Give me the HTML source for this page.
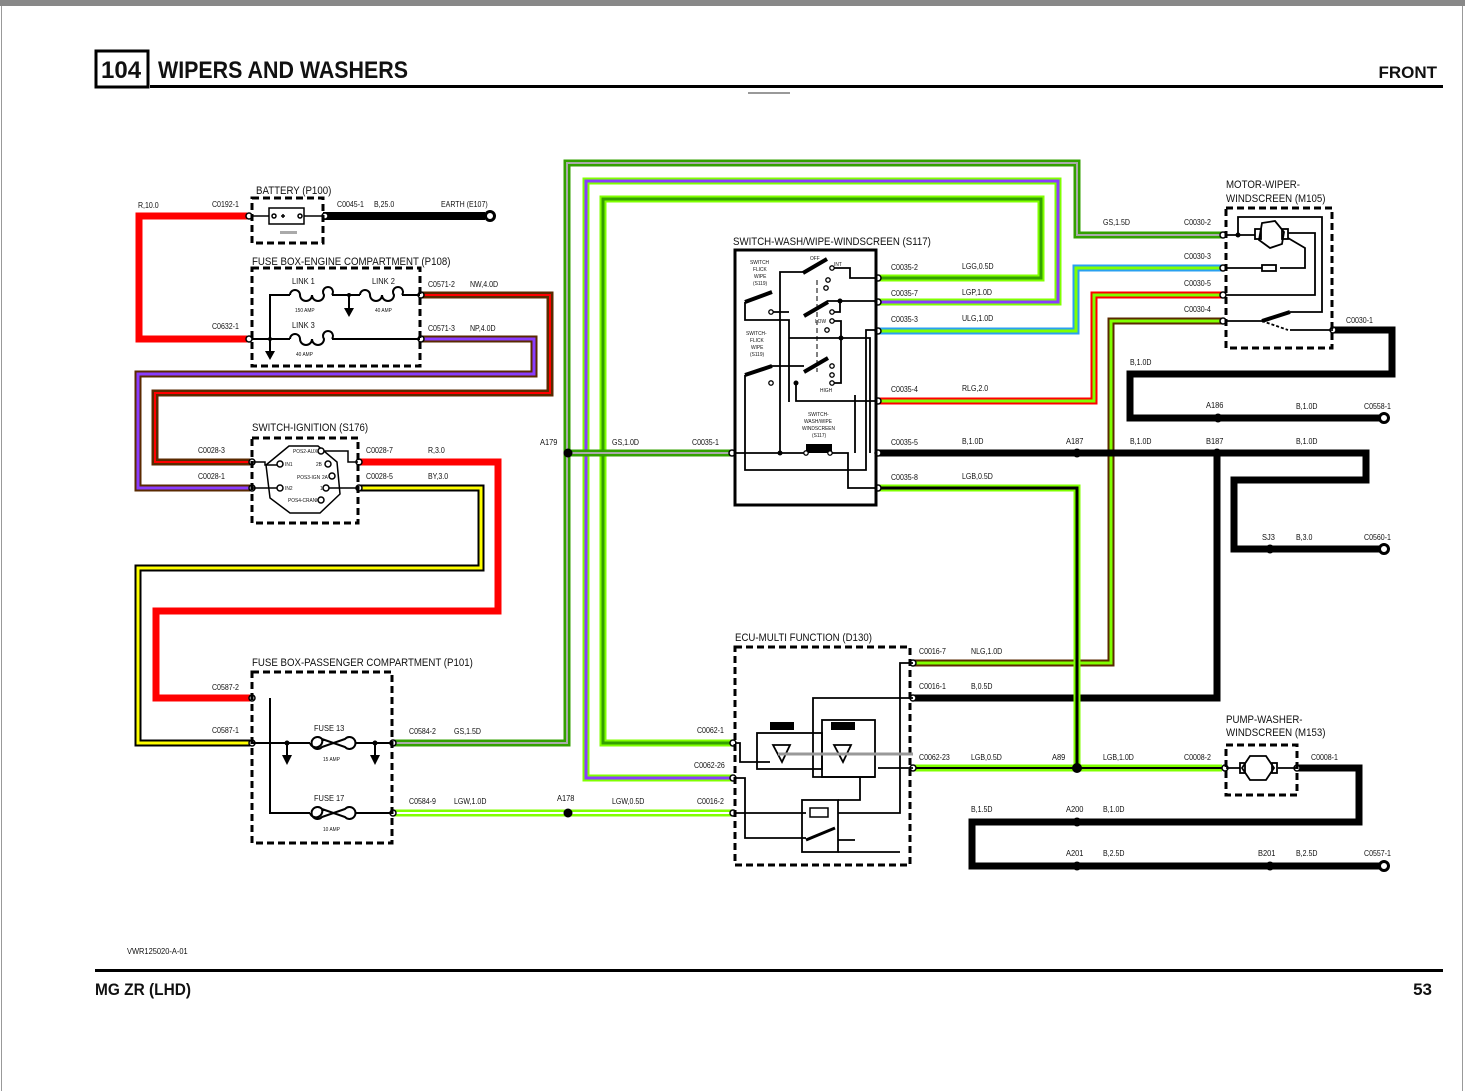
<!DOCTYPE html>
<html><head><meta charset="utf-8"><style>
html,body{margin:0;padding:0;background:#fff;}
svg{display:block;}
text{font-family:"Liberation Sans",sans-serif;fill:#111;}
.s{font-size:8.5px;}
.t{font-size:11px;}
.xs{font-size:5.5px;}
.s text,.t text,.xs text{transform-box:fill-box;transform-origin:0 0;transform:scaleX(.88);}
.w{fill:none;stroke-linejoin:miter;stroke-linecap:butt;}
</style></head><body>
<svg width="1465" height="1091" viewBox="0 0 1465 1091" xmlns="http://www.w3.org/2000/svg">
<rect x="0" y="0" width="1465" height="6" fill="#888"/>
<line x1="1.5" y1="6" x2="1.5" y2="1091" stroke="#999" stroke-width="1"/>
<line x1="1462.5" y1="6" x2="1462.5" y2="1091" stroke="#999" stroke-width="1"/>
<!-- header -->
<rect x="96" y="51" width="52" height="36" fill="none" stroke="#000" stroke-width="3"/>
<text x="101" y="78" style="font-size:24px;font-weight:bold">104</text>
<text x="158" y="78" style="font-size:24px;font-weight:bold" textLength="250" lengthAdjust="spacingAndGlyphs">WIPERS AND WASHERS</text>
<text x="1437" y="78" text-anchor="end" style="font-size:17px;font-weight:bold">FRONT</text>
<rect x="150" y="85" width="1293" height="3" fill="#000"/>
<rect x="748" y="92" width="42" height="2" fill="#999"/>
<rect x="95" y="969" width="1348" height="3" fill="#000"/>
<text x="95" y="995" style="font-size:17px;font-weight:bold" textLength="96" lengthAdjust="spacingAndGlyphs">MG ZR (LHD)</text>
<text x="1432" y="995" text-anchor="end" style="font-size:17px;font-weight:bold">53</text>
<g class="s"><text x="127" y="954">VWR125020-A-01</text></g>

<!-- WIRES -->
<g class="w">
<path d="M247 216 H139 V339 H247" stroke="#f00" stroke-width="7"/>
<path d="M323 216 H485" stroke="#000" stroke-width="8"/>
<path d="M420 295 H550 V393 H155 V462 H250" stroke="#5a2a00" stroke-width="7"/>
<path d="M420 295 H550 V393 H155 V462 H250" stroke="#f00" stroke-width="2"/>
<path d="M420 339 H534 V374 H138 V488 H250" stroke="#5a2a00" stroke-width="7"/>
<path d="M420 339 H534 V374 H138 V488 H250" stroke="#8a3cff" stroke-width="3"/>
<path d="M358 462 H498 V611 H156 V698 H250" stroke="#f00" stroke-width="7"/>
<path d="M358 488 H481 V568 H138 V743 H250" stroke="#000" stroke-width="7"/>
<path d="M358 488 H481 V568 H138 V743 H250" stroke="#ff0" stroke-width="3"/>
<path d="M392 743 H567 V163 H1077 V235 H1222" stroke="#33a000" stroke-width="7"/>
<path d="M392 743 H567 V163 H1077 V235 H1222" stroke="#aaa" stroke-width="2"/>
<path d="M735 778 H586 V181 H1058 V302 H878" stroke="#80ff00" stroke-width="7"/>
<path d="M735 778 H586 V181 H1058 V302 H878" stroke="#8a3cff" stroke-width="3"/>
<path d="M735 743 H603 V199 H1041 V278 H878" stroke="#80ff00" stroke-width="7"/>
<path d="M735 743 H603 V199 H1041 V278 H878" stroke="#33a000" stroke-width="3"/>
<path d="M568 453 H733" stroke="#33a000" stroke-width="7"/>
<path d="M568 453 H733" stroke="#aaa" stroke-width="2"/>
<path d="M392 813 H733" stroke="#80ff00" stroke-width="7"/>
<path d="M392 813 H733" stroke="#fff" stroke-width="2"/>
<path d="M878 331 H1076 V268 H1222" stroke="#2aa0f0" stroke-width="7"/>
<path d="M878 331 H1076 V268 H1222" stroke="#80ff00" stroke-width="3"/>
<path d="M878 401 H1094 V295 H1222" stroke="#f00" stroke-width="7"/>
<path d="M878 401 H1094 V295 H1222" stroke="#80ff00" stroke-width="3"/>
<path d="M912 663 H1111 V321 H1222" stroke="#5a2a00" stroke-width="7"/>
<path d="M912 663 H1111 V321 H1222" stroke="#80ff00" stroke-width="3"/>
<path d="M878 453 H1366 V480 H1234 V549 H1380" stroke="#000" stroke-width="7"/>
<path d="M1333 330 H1392 V374 H1130 V418 H1380" stroke="#000" stroke-width="7"/>
<path d="M912 698 H1217 V453" stroke="#000" stroke-width="7"/>
<path d="M1297 768 H1359 V822 H972 V866 H1380" stroke="#000" stroke-width="7"/>
<path d="M878 488 H1077 V768" stroke="#80ff00" stroke-width="7"/>
<path d="M878 488 H1077 V768" stroke="#000" stroke-width="3"/>
<path d="M912 768 H1222" stroke="#80ff00" stroke-width="7"/>
<path d="M912 768 H1222" stroke="#000" stroke-width="2"/>
</g>
<g fill="#000">
<circle cx="568" cy="453" r="4.5"/><circle cx="568" cy="813" r="4.5"/>
<circle cx="1077" cy="453" r="4.5"/><circle cx="1217" cy="453" r="4.5"/>
<circle cx="1218" cy="418" r="4.5"/><circle cx="1270" cy="549" r="4.5"/>
<circle cx="1077" cy="768" r="5"/><circle cx="1077" cy="822" r="4.5"/>
<circle cx="1077" cy="866" r="4.5"/><circle cx="1270" cy="866" r="4.5"/>
</g>
<g fill="#fff" stroke="#000" stroke-width="3">
<circle cx="490" cy="216" r="4.5"/><circle cx="1384" cy="418" r="4.5"/>
<circle cx="1384" cy="549" r="4.5"/><circle cx="1384" cy="866" r="4.5"/>
</g>
<g fill="#fff" stroke="#000" stroke-width="1.5">
<circle cx="249" cy="216" r="3"/><circle cx="325" cy="216" r="3"/>
<circle cx="249" cy="339" r="3"/><circle cx="421" cy="295" r="3"/><circle cx="421" cy="339" r="3"/>
<circle cx="252" cy="462" r="3"/><circle cx="252" cy="488" r="3"/>
<circle cx="359" cy="462" r="3"/><circle cx="359" cy="488" r="3"/>
<circle cx="252" cy="698" r="3"/><circle cx="252" cy="743" r="3"/>
<circle cx="393" cy="743" r="3"/><circle cx="393" cy="813" r="3"/>
<circle cx="732" cy="453" r="3"/><circle cx="878" cy="278" r="3"/><circle cx="878" cy="302" r="3"/>
<circle cx="878" cy="331" r="3"/><circle cx="878" cy="401" r="3"/><circle cx="878" cy="453" r="3"/><circle cx="878" cy="488" r="3"/>
<circle cx="733" cy="743" r="3"/><circle cx="733" cy="778" r="3"/><circle cx="733" cy="813" r="3"/>
<circle cx="913" cy="663" r="3"/><circle cx="913" cy="698" r="3"/><circle cx="913" cy="768" r="3"/>
<circle cx="1223" cy="235" r="3"/><circle cx="1223" cy="268" r="3"/><circle cx="1223" cy="295" r="3"/><circle cx="1223" cy="321" r="3"/>
<circle cx="1333" cy="330" r="3"/><circle cx="1225" cy="768" r="3"/><circle cx="1297" cy="768" r="3"/>
</g>

<g fill="none" stroke="#000" stroke-width="3" stroke-dasharray="7,4">
<rect x="252" y="198" width="71" height="45"/>
<rect x="252" y="268" width="168" height="98"/>
<rect x="252" y="438" width="106" height="85"/>
<rect x="252" y="672" width="140" height="171"/>
<rect x="735" y="647" width="175" height="218"/>
<rect x="1226" y="208" width="106" height="140"/>
<rect x="1226" y="745" width="71" height="50"/>
</g>
<rect x="735" y="250" width="141" height="255" fill="none" stroke="#000" stroke-width="3"/>

<g stroke="#000" stroke-width="1.5" fill="none">
<line x1="252" y1="216" x2="323" y2="216"/>
<rect x="269" y="208" width="35" height="16" fill="#fff"/>
<circle cx="274" cy="216" r="2"/><circle cx="300" cy="216" r="2"/>
<line x1="281" y1="216" x2="285" y2="216"/><line x1="283" y1="214" x2="283" y2="218"/>
</g>
<rect x="280" y="231" width="17" height="3" fill="#aaa"/>
<g stroke="#000" stroke-width="2" fill="none">
<path d="M252 339 H290 M332 339 H420 M270 339 V295 H290 M332 295 H360 M402 295 H420"/>
<path d="M290 295 a5 5 0 1 1 10 0 a6 6 0 0 0 12 0 a6 6 0 0 0 12 0 a5 5 0 1 1 8 0"/>
<path d="M360 295 a5 5 0 1 1 10 0 a6 6 0 0 0 12 0 a6 6 0 0 0 12 0 a5 5 0 1 1 8 0"/>
<path d="M290 339 a5 5 0 1 1 10 0 a6 6 0 0 0 12 0 a6 6 0 0 0 12 0 a5 5 0 1 1 8 0"/>
<line x1="349" y1="295" x2="349" y2="310"/><line x1="270" y1="339" x2="270" y2="352"/>
</g>
<path d="M344 308 h10 l-5 9z M265 351 h10 l-5 9z" fill="#000"/>
<circle cx="349" cy="295" r="2" fill="#000"/><circle cx="270" cy="339" r="2" fill="#000"/>
<g stroke="#000" stroke-width="1.5" fill="none">
<polygon points="289,446 318,446 337,462 340,494 320,513 290,513 270,498 266,465"/>
<path d="M252 462 H265 V465 H279 M252 488 H279 M321 451 H348 V462 H358 M328 488 H358"/>
</g>
<g fill="#fff" stroke="#000" stroke-width="1.5">
<circle cx="280" cy="464" r="3"/><circle cx="280" cy="488" r="3"/><circle cx="321" cy="451" r="3"/>
<circle cx="328" cy="464" r="3"/><circle cx="332" cy="476" r="3"/><circle cx="326" cy="488" r="3"/><circle cx="321" cy="500" r="3"/>
</g>
<g class="xs"><text x="285" y="466">IN1</text><text x="285" y="490">IN2</text><text x="293" y="453">POS2-AUX</text>
<text x="316" y="466">2B</text><text x="297" y="479">POS3-IGN</text><text x="322" y="479">2A</text><text x="320" y="490">1</text><text x="288" y="502">POS4-CRANK</text></g>
<g stroke="#000" stroke-width="2" fill="none">
<path d="M252 743 H310 M356 743 H392 M270 698 V813 H310 M356 813 H392 M287 743 V756 M375 743 V756"/>
<path d="M310 743 a6 6 0 1 0 12 -4 L345 747 a6 6 0 1 0 0 -8 L322 747 a6 6 0 1 1 0 -8"/>
<path d="M310 813 a6 6 0 1 0 12 -4 L345 817 a6 6 0 1 0 0 -8 L322 817 a6 6 0 1 1 0 -8"/>
</g>
<path d="M282 755 h10 l-5 10z M370 755 h10 l-5 10z" fill="#000"/>
<circle cx="287" cy="743" r="2.5" fill="#000"/><circle cx="375" cy="743" r="2.5" fill="#000"/>

<g stroke="#000" stroke-width="1.8" fill="none">
<path d="M780 453 V272 H803"/>
<path d="M832 268 H850 V278 H876"/>
<path d="M827 301 H876 M840 301 V312 H832"/>
<path d="M832 321 H841 V340"/>
<path d="M745 302 V320 H789 V338 H870 V453 M789 338 V402"/>
<path d="M770 312 H789"/>
<path d="M745 375 V470 H866 V330 H876"/>
<path d="M770 366 H804 M796 383 V401 H876 M841 338 V383 H832"/>
<path d="M735 453 H806 M830 453 H848 V488 H876"/>
<path d="M855 395 V453"/>
<line x1="817" y1="280" x2="817" y2="372" stroke-dasharray="5,3" stroke-width="1"/>
</g>
<g stroke="#000" stroke-width="4">
<line x1="803" y1="273" x2="827" y2="259"/><line x1="804" y1="316" x2="828" y2="302"/>
<line x1="804" y1="372" x2="828" y2="358"/><line x1="745" y1="302" x2="772" y2="292"/><line x1="745" y1="375" x2="772" y2="366"/>
<rect x="808" y="446" width="22" height="5"/>
</g>
<g fill="#fff" stroke="#000" stroke-width="1.3">
<circle cx="832" cy="268" r="2.2"/><circle cx="828" cy="280" r="2.2"/><circle cx="826" cy="288" r="2.2"/>
<circle cx="832" cy="312" r="2.2"/><circle cx="832" cy="321" r="2.2"/><circle cx="827" cy="330" r="2.2"/>
<circle cx="832" cy="366" r="2.2"/><circle cx="832" cy="375" r="2.2"/><circle cx="832" cy="383" r="2.2"/>
<circle cx="771" cy="312" r="2.2"/><circle cx="771" cy="383" r="2.2"/>
<circle cx="806" cy="453" r="2.2"/><circle cx="830" cy="453" r="2.2"/>
</g>
<g fill="#000"><circle cx="780" cy="453" r="2.5"/><circle cx="840" cy="301" r="2.5"/><circle cx="841" cy="338" r="2.5"/><circle cx="796" cy="383" r="2.5"/></g>
<g class="xs">
<text x="750" y="264">SWITCH</text><text x="753" y="271">FLICK</text><text x="754" y="278">WIPE</text><text x="753" y="285">(S119)</text>
<text x="746" y="335">SWITCH-</text><text x="750" y="342">FLICK</text><text x="751" y="349">WIPE</text><text x="750" y="356">(S119)</text>
<text x="808" y="416">SWITCH-</text><text x="804" y="423">WASH/WIPE</text><text x="802" y="430">WINDSCREEN</text><text x="812" y="437">(S117)</text>
<text x="810" y="260">OFF</text><text x="834" y="266">INT</text><text x="815" y="323">LOW</text><text x="820" y="392">HIGH</text>
</g>

<g stroke="#000" stroke-width="1.8" fill="none">
<path d="M735 743 H740 V762 H770"/>
<rect x="757" y="733" width="65" height="36"/>
<rect x="822" y="720" width="53" height="57"/>
<path d="M913 663 H900 V813 H838"/>
<path d="M913 698 H813 V777 H875"/>
<path d="M913 768 H878"/>
<path d="M735 778 H745 V838 H806"/>
<path d="M735 813 H806 M838 800 H860 V777 M838 840 H855 M838 852 H900"/>
<rect x="802" y="800" width="36" height="52"/>
<path d="M773 745 L782 762 L790 745 z M834 745 L843 762 L851 745 z"/>
</g>
<line x1="778" y1="754" x2="913" y2="754" stroke="#999" stroke-width="3"/>
<g stroke="#000" stroke-width="4"><rect x="772" y="724" width="20" height="4"/><rect x="833" y="724" width="20" height="4"/></g>
<rect x="810" y="808" width="18" height="9" fill="#fff" stroke="#000" stroke-width="1.5"/>
<line x1="806" y1="840" x2="835" y2="828" stroke="#000" stroke-width="3"/>
<g stroke="#000" stroke-width="1.8" fill="none">
<path d="M1226 235 H1255 M1238 235 V217 H1322 V312 H1290"/>
<polygon points="1262,223 1275,221 1284,232 1282,244 1270,248 1259,240"/>
<rect x="1255" y="229" width="6" height="10"/><rect x="1282" y="229" width="6" height="10"/>
<path d="M1288 233 H1315 V295 H1226"/>
<path d="M1288 238 L1305 248 V268 H1280 M1262 268 H1226"/>
<rect x="1262" y="265" width="14" height="6"/>
<path d="M1226 321 H1262 M1290 330 H1333"/>
<line x1="1262" y1="321" x2="1288" y2="330" stroke-dasharray="3,2"/>
</g>
<line x1="1262" y1="321" x2="1290" y2="312" stroke="#000" stroke-width="4"/>
<circle cx="1238" cy="235" r="2.5" fill="#000"/>
<g stroke="#000" stroke-width="1.8" fill="none">
<path d="M1226 768 H1240 M1278 768 H1297"/>
<polygon points="1250,756 1266,756 1274,768 1266,780 1250,780 1242,768"/>
<rect x="1240" y="763" width="5" height="10"/><rect x="1272" y="763" width="5" height="10"/>
</g>

<g class="t">
<text x="256" y="194">BATTERY (P100)</text>
<text x="252" y="265">FUSE BOX-ENGINE COMPARTMENT (P108)</text>
<text x="252" y="431">SWITCH-IGNITION (S176)</text>
<text x="252" y="666">FUSE BOX-PASSENGER COMPARTMENT (P101)</text>
<text x="733" y="245">SWITCH-WASH/WIPE-WINDSCREEN (S117)</text>
<text x="735" y="641">ECU-MULTI FUNCTION (D130)</text>
<text x="1226" y="188">MOTOR-WIPER-</text><text x="1226" y="202">WINDSCREEN (M105)</text>
<text x="1226" y="723">PUMP-WASHER-</text><text x="1226" y="736">WINDSCREEN (M153)</text>
</g>
<g class="s">
<text x="292" y="284">LINK 1</text><text x="372" y="284">LINK 2</text><text x="292" y="328">LINK 3</text>
<text x="314" y="731">FUSE 13</text><text x="314" y="801">FUSE 17</text>
<text x="540" y="445">A179</text><text x="557" y="801">A178</text>
<text x="1066" y="444">A187</text><text x="1206" y="444">B187</text><text x="1206" y="408">A186</text>
<text x="1052" y="760">A89</text><text x="1066" y="812">A200</text><text x="1066" y="856">A201</text><text x="1258" y="856">B201</text><text x="1262" y="540">SJ3</text>
</g>
<g class="s" style="font-size:8px">
<text x="138" y="208">R,10.0</text><text x="212" y="207">C0192-1</text><text x="337" y="207">C0045-1</text><text x="374" y="207">B,25.0</text><text x="441" y="207">EARTH (E107)</text>
<text x="428" y="287">C0571-2</text><text x="470" y="287">NW,4.0D</text><text x="212" y="329">C0632-1</text><text x="428" y="331">C0571-3</text><text x="470" y="331">NP,4.0D</text>
<text x="198" y="453">C0028-3</text><text x="198" y="479">C0028-1</text><text x="366" y="453">C0028-7</text><text x="428" y="453">R,3.0</text><text x="366" y="479">C0028-5</text><text x="428" y="479">BY,3.0</text>
<text x="212" y="690">C0587-2</text><text x="212" y="733">C0587-1</text>
<text x="409" y="734">C0584-2</text><text x="454" y="734">GS,1.5D</text><text x="409" y="804">C0584-9</text><text x="454" y="804">LGW,1.0D</text>
<text x="612" y="804">LGW,0.5D</text><text x="697" y="804">C0016-2</text><text x="612" y="445">GS,1.0D</text><text x="692" y="445">C0035-1</text>
<text x="891" y="270">C0035-2</text><text x="962" y="269">LGG,0.5D</text><text x="891" y="296">C0035-7</text><text x="962" y="295">LGP,1.0D</text>
<text x="891" y="322">C0035-3</text><text x="962" y="321">ULG,1.0D</text><text x="891" y="392">C0035-4</text><text x="962" y="391">RLG,2.0</text>
<text x="891" y="445">C0035-5</text><text x="962" y="444">B,1.0D</text><text x="1130" y="444">B,1.0D</text><text x="1296" y="444">B,1.0D</text>
<text x="891" y="480">C0035-8</text><text x="962" y="479">LGB,0.5D</text>
<text x="1103" y="225">GS,1.5D</text><text x="1184" y="225">C0030-2</text><text x="1184" y="259">C0030-3</text><text x="1184" y="286">C0030-5</text><text x="1184" y="312">C0030-4</text><text x="1346" y="323">C0030-1</text>
<text x="1130" y="365">B,1.0D</text><text x="1296" y="409">B,1.0D</text><text x="1364" y="409">C0558-1</text>
<text x="1296" y="540">B,3.0</text><text x="1364" y="540">C0560-1</text>
<text x="919" y="654">C0016-7</text><text x="971" y="654">NLG,1.0D</text><text x="919" y="689">C0016-1</text><text x="971" y="689">B,0.5D</text>
<text x="697" y="733">C0062-1</text><text x="694" y="768">C0062-26</text><text x="919" y="760">C0062-23</text><text x="971" y="760">LGB,0.5D</text>
<text x="1103" y="760">LGB,1.0D</text><text x="1184" y="760">C0008-2</text><text x="1311" y="760">C0008-1</text>
<text x="971" y="812">B,1.5D</text><text x="1103" y="812">B,1.0D</text><text x="1103" y="856">B,2.5D</text><text x="1296" y="856">B,2.5D</text><text x="1364" y="856">C0557-1</text>
</g>
<g class="xs">
<text x="295" y="312">150 AMP</text><text x="375" y="312">40 AMP</text><text x="296" y="356">40 AMP</text>
<text x="323" y="761">15 AMP</text><text x="323" y="831">10 AMP</text>
</g>
</svg>
</body></html>
